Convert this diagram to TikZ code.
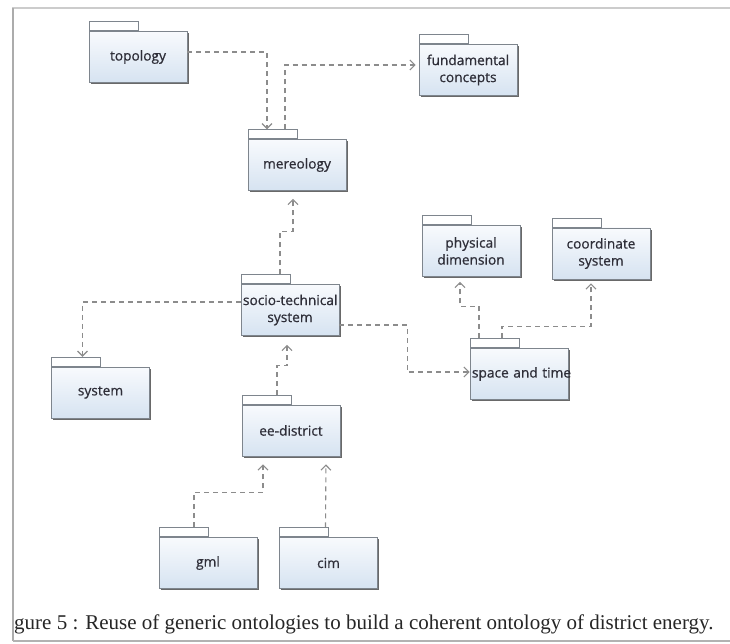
\documentclass[tikz,border=0pt]{standalone}
\usepackage{fontspec}
\setmainfont{Liberation Serif}
\newfontfamily\pkgfont[FakeBold=0.7]{Open Sans}
\usetikzlibrary{arrows.meta,calc,shadows}

\definecolor{pkgline}{HTML}{7E858D}
\definecolor{pkgtop}{HTML}{F8FAFD}
\definecolor{pkgbot}{HTML}{D6E3F1}
\definecolor{pkgtext}{HTML}{2E2E38}
\definecolor{dep}{HTML}{8C8C8C}

\tikzset{
  pkgbody/.style={rectangle, draw=pkgline, line width=0.8pt,
    top color=pkgtop, bottom color=pkgbot,
    minimum width=98pt, minimum height=51pt, inner sep=0pt,
    text width=94pt, align=center, text=pkgtext,
    font=\pkgfont\fontsize{13.7}{17}\selectfont,
    drop shadow={shadow xshift=1.8pt, shadow yshift=-1.8pt, fill=black!65, opacity=0.9}},
  pkgtab/.style={rectangle, draw=pkgline, line width=0.8pt, fill=white,
    minimum width=49pt, minimum height=9pt, inner sep=0pt, anchor=south west},
  depend/.style={draw=dep, line width=1.1pt, dash pattern=on 5pt off 4pt,
    -{Straight Barb[length=5pt,width=10pt]}},
  gap/.style={shorten >=#1},
  frameline/.style={line width=#1}
}

% a UML package: body node #1 and its tab #1tab
\newcommand\umlpackage[4]{%
  \node[pkgbody] (#1) at (#2,#3) {#4};
  \node[pkgtab] (#1tab) at (#1.north west) {};
}

\begin{document}
\begin{tikzpicture}[x=1pt,y=1pt]
\useasboundingbox (0,0) rectangle (730,-644);
\fill[white] (0,0) rectangle (730,-644);

% page edges
\draw[gray!40, frameline=1.5pt] (12,-8) -- (730,-8);
\draw[gray!65, frameline=2pt] (13,-8) -- (13,-641);
\draw[gray!60, frameline=2pt] (13,-641) -- (730,-641);

% packages
\umlpackage{topo}{138}{-57}{topology}
\umlpackage{fund}{468}{-70}{fundamental\\concepts}
\umlpackage{mer}{297}{-165}{mereology}
\umlpackage{phys}{471}{-251}{physical\\dimension}
\umlpackage{coord}{601}{-253.5}{coordinate\\system}
\umlpackage{socio}{290}{-310}{\mbox{socio-technical}\\system}
\umlpackage{space}{519}{-374}{\mbox{space and time}}
\umlpackage{sys}{100.5}{-392.5}{system}
\umlpackage{ee}{291}{-430.5}{ee-district}
\umlpackage{gml}{208}{-563}{gml}
\umlpackage{cim}{328.5}{-563}{cim}

% dependencies
\draw[depend] ([yshift=5pt]topo.east) -| ($(mertab.north)+(-5.5,0)$);
\draw[depend, gap=3pt] ($(mertab.north)+(12.5,0)$) |- ([yshift=5pt]fund.west);
\draw[depend, gap=8pt] ($(sociotab.north)+(14.5,0)$) -- ++(0,43) -| ($(mer.south)+(-4,0)$);
\draw[depend] ([yshift=8pt]socio.west) -| ($(systab.north)+(6.5,0)$);
\draw[depend] ([yshift=-15pt]socio.east) -- ++(68,0) |- ([yshift=2pt]space.west);
\draw[depend, gap=9pt] ($(eetab.north)+(10.5,0)$) -- ++(0,29) -| ($(socio.south)+(-3,0)$);
\draw[depend, gap=8pt] ($(gmltab.north)+(10.5,0)$) -- ++(0,35) -| ($(ee.south)+(-28,0)$);
\draw[depend, gap=8pt] ($(cimtab.north)+(21.5,0)$) -- ($(ee.south)+(35,0)$);
\draw[depend, gap=5pt] ($(spacetab.north)+(-15.5,0)$) -- ++(0,32) -| ($(phys.south)+(-11,0)$);
\draw[depend, gap=4pt] ($(spacetab.north)+(7.5,0)$) -- ++(0,12) -| ($(coord.south)+(-10,0)$);

% caption
\node[anchor=base west, inner sep=0pt, text=black!85,
  font=\fontsize{21}{25}\selectfont] (cap) at (14,-629)
  {gure 5 : Reuse of generic ontologies to build a coherent ontology of district energy.};
\end{tikzpicture}
\end{document}
